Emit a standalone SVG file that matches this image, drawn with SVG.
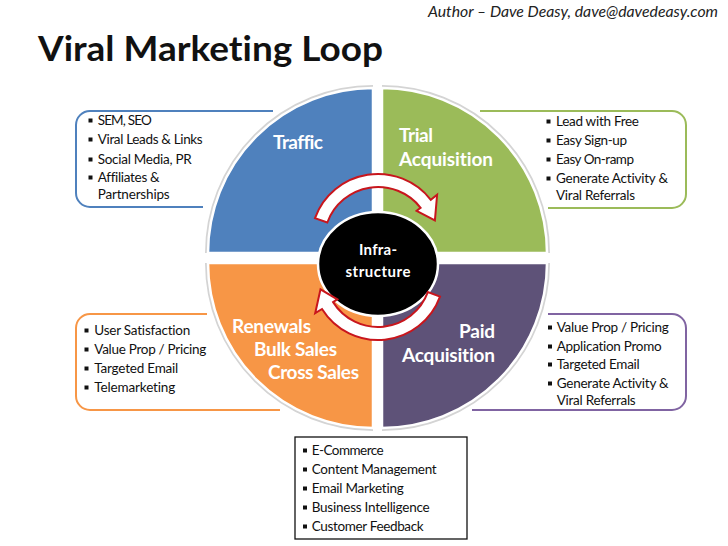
<svg xmlns="http://www.w3.org/2000/svg" width="728" height="546" viewBox="0 0 728 546">
<style>
text{font-variant-ligatures:none}
.t{font-family:Lato,"Liberation Sans",sans-serif;font-size:13.5px;fill:#111}
.q{font-family:Lato,"Liberation Sans",sans-serif;font-size:19px;font-weight:bold;fill:#fff}
.c{font-family:Lato,"Liberation Sans",sans-serif;font-size:15px;font-weight:bold;fill:#fff;text-anchor:middle}
.box{fill:none;stroke-width:2}
.quad{stroke:#fff;stroke-width:2.5}
.sh{fill:none;stroke:#d4d4d4;stroke-width:6}
.arr{fill:#fff;stroke:#c8161d;stroke-width:2;stroke-linejoin:miter}
</style>
<defs>
<rect id="b" x="-2" y="-2" width="4" height="4" fill="#111"/>
</defs>
<rect width="728" height="546" fill="#fff"/>

<g id="header">
<text x="428" y="17" style="font-family:Lato,'Liberation Sans',sans-serif;font-size:14.5px;font-style:italic;fill:#222" textLength="290" lengthAdjust="spacingAndGlyphs">Author – Dave Deasy, dave@davedeasy.com</text>
<text x="38" y="61" style="font-family:Lato,'Liberation Sans',sans-serif;font-size:34px;font-weight:bold;fill:#111" textLength="345" lengthAdjust="spacingAndGlyphs">Viral Marketing Loop</text>
</g>

<g id="callout-traffic">
<path class="box" stroke="#4F81BD" d="M273,111 H90 A14,14 0 0 0 76,125 V193 A14,14 0 0 0 90,207 H203"/>
<use href="#b" x="90.5" y="120.5"/><text class="t" x="97.7" y="125" textLength="54">SEM, SEO</text>
<use href="#b" x="90.5" y="139.5"/><text class="t" x="97.7" y="144" textLength="105">Viral Leads &amp; Links</text>
<use href="#b" x="90.5" y="159.5"/><text class="t" x="97.7" y="164" textLength="94">Social Media, PR</text>
<use href="#b" x="90.5" y="177.5"/><text class="t" x="97.7" y="182" textLength="62">Affiliates &amp;</text>
<text class="t" x="97.7" y="199" textLength="72">Partnerships</text>
</g>

<g id="callout-trial">
<path class="box" stroke="#9BBB59" d="M480,111 H672 A14,14 0 0 1 686,125 V194 A14,14 0 0 1 672,208 H548"/>
<use href="#b" x="548.5" y="121.5"/><text class="t" x="556" y="126" textLength="83">Lead with Free</text>
<use href="#b" x="548.5" y="140.5"/><text class="t" x="556" y="145" textLength="71">Easy Sign-up</text>
<use href="#b" x="548.5" y="159.5"/><text class="t" x="556" y="164" textLength="78">Easy On-ramp</text>
<use href="#b" x="548.5" y="178.5"/><text class="t" x="556" y="183" textLength="112">Generate Activity &amp;</text>
<text class="t" x="556" y="200" textLength="79">Viral Referrals</text>
</g>

<g id="callout-renewals">
<path class="box" stroke="#F79646" d="M207,314 H90 A14,14 0 0 0 76,328 V396 A14,14 0 0 0 90,410 H280"/>
<use href="#b" x="86.5" y="330.5"/><text class="t" x="94.3" y="335" textLength="96">User Satisfaction</text>
<use href="#b" x="86.5" y="349.5"/><text class="t" x="94.3" y="354" textLength="112">Value Prop / Pricing</text>
<use href="#b" x="86.5" y="368.5"/><text class="t" x="94.3" y="373" textLength="84">Targeted Email</text>
<use href="#b" x="86.5" y="387.5"/><text class="t" x="94.3" y="392" textLength="81">Telemarketing</text>
</g>

<g id="callout-paid">
<path class="box" stroke="#8064A2" d="M548,314 H672 A14,14 0 0 1 686,328 V396 A14,14 0 0 1 672,410 H472"/>
<use href="#b" x="550" y="327.5"/><text class="t" x="556.7" y="332" textLength="112">Value Prop / Pricing</text>
<use href="#b" x="550" y="346.5"/><text class="t" x="556.7" y="351" textLength="105">Application Promo</text>
<use href="#b" x="550" y="364.5"/><text class="t" x="556.7" y="369" textLength="83">Targeted Email</text>
<use href="#b" x="550" y="383.5"/><text class="t" x="556.7" y="388" textLength="112">Generate Activity &amp;</text>
<text class="t" x="556.7" y="405" textLength="79">Viral Referrals</text>
</g>

<g id="callout-infrastructure">
<rect x="295" y="437" width="172" height="102" fill="#fff" stroke="#111" stroke-width="1.3"/>
<use href="#b" x="305" y="450.5"/><text class="t" x="311.7" y="455" textLength="72">E-Commerce</text>
<use href="#b" x="305" y="469.5"/><text class="t" x="311.7" y="474" textLength="125">Content Management</text>
<use href="#b" x="305" y="488.5"/><text class="t" x="311.7" y="493" textLength="92">Email Marketing</text>
<use href="#b" x="305" y="507.5"/><text class="t" x="311.7" y="512" textLength="118">Business Intelligence</text>
<use href="#b" x="305" y="526.5"/><text class="t" x="311.7" y="531" textLength="112">Customer Feedback</text>
</g>

<g id="shadow">
<path class="sh" d="M373,88 A165,165 0 0 0 208,253 M382,88 A165,165 0 0 1 547,253 M208,263 A165,165 0 0 0 373,428 M547,263 A165,165 0 0 1 382,428"/>
</g>

<g id="traffic">
<path class="quad" fill="#4F81BD" d="M373,253 L373,88 A165,165 0 0 0 208,253 Z"/>
<text class="q" x="273" y="149" textLength="50">Traffic</text>
</g>

<g id="trial-acquisition">
<path class="quad" fill="#9BBB59" d="M382,253 L382,88 A165,165 0 0 1 547,253 Z"/>
<text class="q" x="399" y="142" textLength="34">Trial</text>
<text class="q" x="399" y="166" textLength="94">Acquisition</text>
</g>

<g id="renewals">
<path class="quad" fill="#F79646" d="M373,263 L208,263 A165,165 0 0 0 373,428 Z"/>
<text class="q" x="232" y="333" textLength="79">Renewals</text>
<text class="q" x="254" y="356" textLength="83">Bulk Sales</text>
<text class="q" x="268" y="379" textLength="91">Cross Sales</text>
</g>

<g id="paid-acquisition">
<path class="quad" fill="#5E5278" d="M382,263 L547,263 A165,165 0 0 1 382,428 Z"/>
<text class="q" x="459" y="338" textLength="36">Paid</text>
<text class="q" x="402" y="362" textLength="93">Acquisition</text>
</g>

<g id="infrastructure">
<ellipse cx="378" cy="264" rx="60" ry="52" fill="#000" stroke="#fff" stroke-width="2.5"/>
<text class="c" x="378" y="255" textLength="38">Infra-</text>
<text class="c" x="378" y="277" textLength="65">structure</text>
</g>

<g id="connectors">
<path class="arr" d="M315,218.1 A67,67 0 0 1 430.8,199.8 L437.1,194.8 L434.9,220.3 L416.6,210.8 L420.6,207.8 A54,54 0 0 0 327.3,222.5 Z"/>
<path class="arr" d="M440,296.6 A66,66 0 0 1 322,309 L315.2,313.2 L320.5,289.4 L337.3,299.4 L333.1,302.1 A53,53 0 0 0 427.8,292.1 Z"/>
</g>
</svg>
